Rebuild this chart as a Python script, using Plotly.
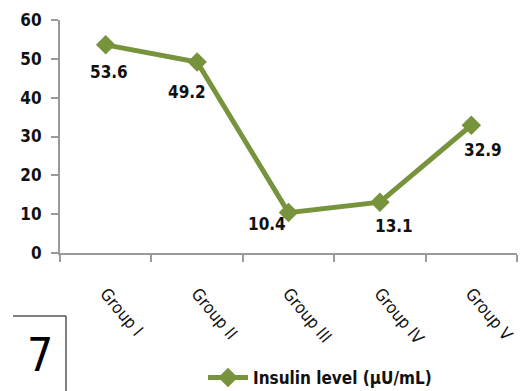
import plotly.graph_objects as go

# Insulin level per treatment group
groups = ["Group I", "Group II", "Group III", "Group IV", "Group V"]
insulin = [53.6, 49.2, 10.4, 13.1, 32.9]
y_ticks = [0, 10, 20, 30, 40, 50, 60]
series_name = "Insulin level (µU/mL)"
panel_label = "7"

GREEN = "#77933C"
AXIS_GREY = "#9A9A9A"
NARROW = "DejaVu Sans Condensed, Liberation Sans Narrow, sans-serif"

# pixel offsets for each value label relative to its point
label_dx = [3, -10, -22, 14, 12]
label_dy = [-27, -30, -11, -24, -25]

fig = go.Figure()
fig.add_trace(go.Scatter(
    x=groups, y=insulin, mode="lines+markers", name=series_name,
    line=dict(color=GREEN, width=5),
    marker=dict(symbol="diamond", size=15, color=GREEN),
))

for g, v, dx, dy in zip(groups, insulin, label_dx, label_dy):
    fig.add_annotation(
        x=g, y=v, text=f"<b>{v}</b>", showarrow=False,
        xshift=dx, yshift=dy,
        font=dict(family=NARROW, size=17, color="#111111"),
    )

# panel number with its corner frame
fig.add_shape(type="line", xref="paper", yref="paper",
              x0=(13 - 60) / 457, x1=(66 - 60) / 457,
              y0=(253 - 316) / 233, y1=(253 - 316) / 233,
              line=dict(color="#555555", width=1.5))
fig.add_shape(type="line", xref="paper", yref="paper",
              x0=(66 - 60) / 457, x1=(66 - 60) / 457,
              y0=(253 - 316) / 233, y1=(253 - 395) / 233,
              line=dict(color="#555555", width=1.5))
fig.add_annotation(
    xref="paper", yref="paper", x=(40 - 60) / 457, y=(253 - 355) / 233,
    text=panel_label, showarrow=False, xanchor="center", yanchor="middle",
    font=dict(family=NARROW, size=46, color="#000000"),
)

fig.update_layout(
    width=527, height=391,
    margin=dict(l=60, r=10, t=20, b=138, autoexpand=False),
    paper_bgcolor="white", plot_bgcolor="white",
    showlegend=True,
    legend=dict(
        orientation="h", x=(203 - 60) / 457, y=(253 - 378) / 233,
        xanchor="left", yanchor="middle",
        font=dict(family=NARROW, size=17, color="#111111", weight="bold"),
        itemwidth=40, bgcolor="rgba(0,0,0,0)",
    ),
    xaxis=dict(
        type="category", range=[-0.5, 4.5],
        showline=True, linecolor=AXIS_GREY, linewidth=2,
        ticks="outside", tickson="boundaries", ticklen=7,
        tickcolor=AXIS_GREY, tickwidth=2,
        tickangle=50, ticklabelstandoff=22,
        tickfont=dict(family=NARROW, size=17, color="#111111"),
        showgrid=False, zeroline=False,
    ),
    yaxis=dict(
        range=[0, 60], tickvals=y_ticks,
        showline=True, linecolor=AXIS_GREY, linewidth=2,
        ticks="outside", ticklen=7, tickcolor=AXIS_GREY, tickwidth=2,
        ticklabelstandoff=6,
        tickfont=dict(family=NARROW, size=17, color="#111111", weight="bold"),
        showgrid=False, zeroline=False,
    ),
)

fig.write_html("out.html")
